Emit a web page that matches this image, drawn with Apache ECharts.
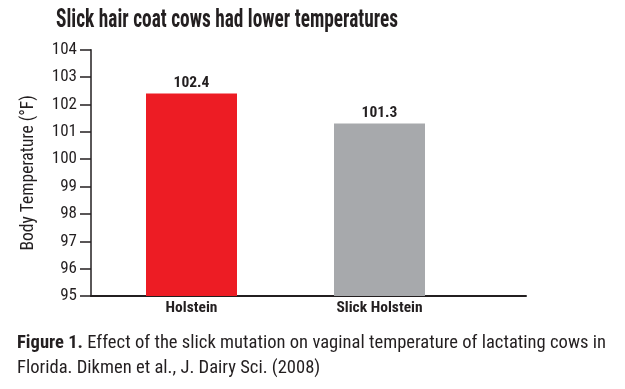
<!DOCTYPE html>
<html>
<head>
<meta charset="utf-8">
<script src="https://cdn.jsdelivr.net/npm/echarts@6/dist/echarts.min.js"></script>
<style>
html,body{margin:0;padding:0;background:#fff;}
#chart{width:625px;height:389px;}
</style>
</head>
<body>
<div id="chart"></div>
<script>
var categories = ['Holstein', 'Slick Holstein'];
var temperatures = [102.4, 101.3];
var barColors = ['#ED1C24', '#A7A9AC'];
var yMin = 95, yMax = 104, yStep = 1;
var titleText = 'Slick hair coat cows had lower temperatures';
var yAxisName = 'Body Temperature (°F)';
var captionBold = 'Figure 1.';
var captionRest = ' Effect of the slick mutation on vaginal temperature of lactating cows in';
var captionLine2 = 'Florida. Dikmen et al., J. Dairy Sci. (2008)';

var FONT = '"Roboto Condensed", "Liberation Sans Narrow", "DejaVu Sans Condensed", sans-serif';
var INK = '#231F20';

var mctx = document.createElement('canvas').getContext('2d');
function measure(txt, weight, size) {
  mctx.font = weight + ' ' + size + 'px ' + FONT;
  return mctx.measureText(txt).width;
}
var titleSize = 25;
var titleScale = 342 / measure(titleText, 'bold', titleSize);
var capSize = 18;
var capW1 = measure(captionBold, 'bold', capSize) + measure(captionRest, 'normal', capSize);
var capScale = 589 / capW1;

var chart = echarts.init(document.getElementById('chart'));
chart.setOption({
  animation: false,
  backgroundColor: '#fff',
  graphic: [{
    type: 'text', x: 56, y: 21, scaleX: titleScale,
    style: {text: titleText, fill: INK, font: 'bold ' + titleSize + 'px ' + FONT, verticalAlign: 'middle'}
  }, {
    type: 'text', x: 17, y: 343, scaleX: capScale,
    style: {
      text: '{b|' + captionBold + '}{r|' + captionRest + '}',
      verticalAlign: 'middle',
      rich: {
        b: {fontFamily: FONT, fontWeight: 'bold', fontSize: capSize, fill: INK},
        r: {fontFamily: FONT, fontWeight: 'normal', fontSize: capSize, fill: INK}
      }
    }
  }, {
    type: 'text', x: 17, y: 368, scaleX: capScale,
    style: {text: captionLine2, fill: INK, font: 'normal ' + capSize + 'px ' + FONT, verticalAlign: 'middle'}
  }],
  grid: [
    {left: 97.5, width: 376, top: 49.7, bottom: 93, containLabel: false},
    {left: 91, width: 435, top: 49.7, bottom: 93, containLabel: false}
  ],
  xAxis: [{
    type: 'category', gridIndex: 0, data: categories,
    axisLine: {show: false}, axisTick: {show: false},
    axisLabel: {fontFamily: FONT, fontWeight: 'bold', fontSize: 15.5, color: INK, margin: 4}
  }, {
    type: 'category', gridIndex: 1, data: [''],
    axisLine: {show: true, lineStyle: {color: INK, width: 2}},
    axisTick: {show: false}, axisLabel: {show: false}
  }],
  yAxis: [{
    type: 'value', gridIndex: 0, min: yMin, max: yMax, interval: yStep,
    show: false, splitLine: {show: false}
  }, {
    type: 'value', gridIndex: 1, min: yMin, max: yMax, interval: yStep,
    name: yAxisName, nameLocation: 'middle', nameGap: 53, nameRotate: 90,
    nameTextStyle: {fontFamily: FONT, fontSize: 17.5, color: INK},
    axisLine: {show: true, lineStyle: {color: INK, width: 1.5}},
    axisTick: {show: true, length: 11, lineStyle: {color: INK, width: 1.5}},
    axisLabel: {fontFamily: FONT, fontSize: 17, color: INK, margin: 14},
    splitLine: {show: false}
  }],
  series: [{
    type: 'bar', xAxisIndex: 0, yAxisIndex: 0,
    barWidth: 91,
    data: temperatures.map(function (v, i) {
      return {value: v, itemStyle: {color: barColors[i]}};
    }),
    label: {
      show: true, position: 'top', distance: 2,
      fontFamily: FONT, fontWeight: 'bold', fontSize: 15.5, color: INK,
      formatter: function (p) { return p.value.toFixed(1); }
    }
  }]
});
</script>
</body>
</html>
